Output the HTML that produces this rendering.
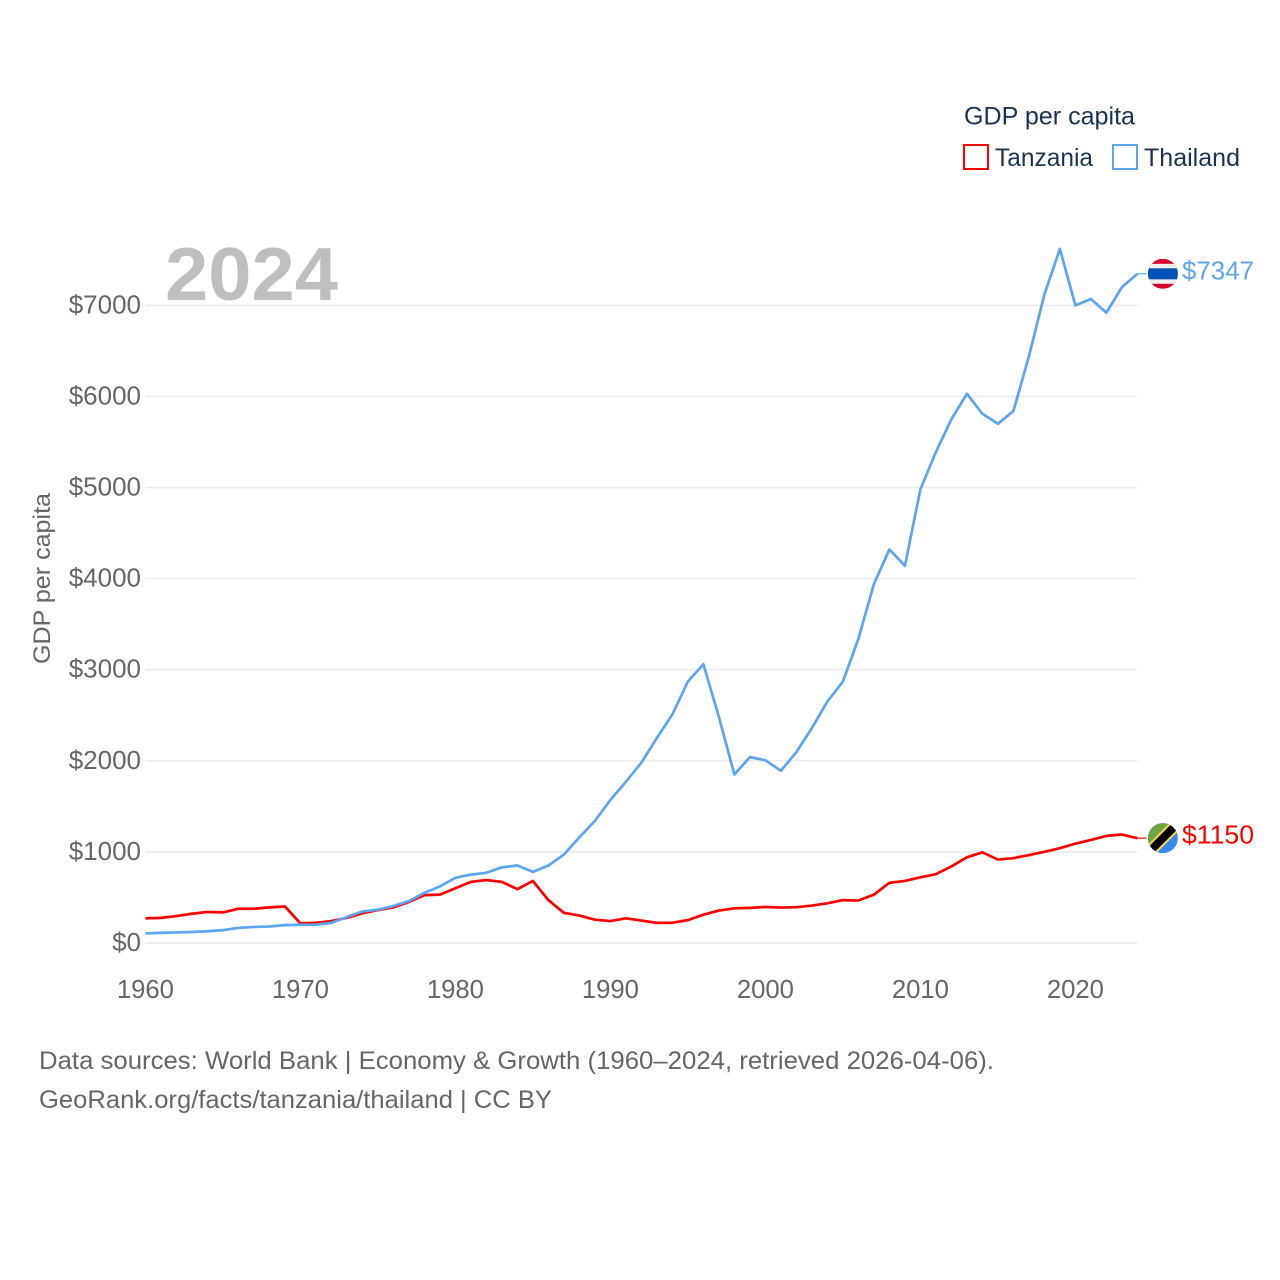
<!DOCTYPE html>
<html lang="en">
<head>
<meta charset="utf-8">
<title>GDP per capita: Tanzania and Thailand</title>
<style>
  html, body { margin: 0; padding: 0; background: #fff; }
  svg { display: block; font-family: "Liberation Sans", sans-serif; }
</style>
</head>
<body>
<svg id="chart" xmlns="http://www.w3.org/2000/svg" width="1280" height="1280" viewBox="0 0 1280 1280">
  <defs>
    <clipPath id="flag-clip-th"><circle cx="0" cy="0" r="15"></circle></clipPath>
    <clipPath id="flag-clip-tz"><circle cx="0" cy="0" r="15"></circle></clipPath>
  </defs>
  <rect width="1280" height="1280" fill="#ffffff"></rect>

  <g id="grid"></g>
  <g id="y-ticks"></g>
  <g id="x-ticks"></g>

  <text transform="translate(50 578.5) rotate(-90)" text-anchor="middle" font-size="24.5" fill="#666666" textLength="171" lengthAdjust="spacingAndGlyphs">GDP per capita</text>

  <text x="165" y="300" font-size="75" font-weight="700" fill="#bfbfbf" textLength="173" lengthAdjust="spacingAndGlyphs">2024</text>

  <g id="series"></g>

  <g id="flag-th" clip-path="url(#flag-clip-th)">
    <rect x="-15" y="-15" width="30" height="30" fill="#d80027"></rect>
    <rect x="-15" y="-10" width="30" height="20" fill="#eeeeee"></rect>
    <rect x="-15" y="-5.5" width="30" height="11" fill="#0052b4"></rect>
  </g>
  <g id="flag-tz" clip-path="url(#flag-clip-tz)">
    <rect x="-15" y="-15" width="30" height="30" fill="#338af3"></rect>
    <polygon points="-15,-15 15,-15 -15,15" fill="#6da544"></polygon>
    <line x1="-15" y1="15" x2="15" y2="-15" stroke="#ffda44" stroke-width="12"></line>
    <line x1="-15" y1="15" x2="15" y2="-15" stroke="#000000" stroke-width="8"></line>
  </g>
  <text id="label-th" x="1182" font-size="25.5" fill="#5da5ee" textLength="72" lengthAdjust="spacingAndGlyphs"></text>
  <text id="label-tz" x="1182" font-size="25.5" fill="#ff0000" textLength="72" lengthAdjust="spacingAndGlyphs"></text>

  <g>
    <text x="964" y="124.5" font-size="25" fill="#1a3355" textLength="171" lengthAdjust="spacingAndGlyphs">GDP per capita</text>
    <g>
      <rect x="964" y="145" width="24" height="24" fill="#ffffff" stroke="#ff0000" stroke-width="2"></rect>
      <text x="995" y="166" font-size="25" fill="#1a3355" textLength="98" lengthAdjust="spacingAndGlyphs">Tanzania</text>
    </g>
    <g>
      <rect x="1113" y="145" width="24" height="24" fill="#ffffff" stroke="#5da5ee" stroke-width="2"></rect>
      <text x="1144" y="166" font-size="25" fill="#1a3355" textLength="96" lengthAdjust="spacingAndGlyphs">Thailand</text>
    </g>
  </g>

  <g>
    <text x="39" y="1069" font-size="25" fill="#666666" textLength="955" lengthAdjust="spacingAndGlyphs">Data sources: World Bank | Economy &amp; Growth (1960–2024, retrieved 2026-04-06).</text>
    <text x="39" y="1108" font-size="25" fill="#666666" textLength="513" lengthAdjust="spacingAndGlyphs">GeoRank.org/facts/tanzania/thailand | CC BY</text>
  </g>
</svg>

<script>
const startYear = 1960;
const xTickYears = [1960, 1970, 1980, 1990, 2000, 2010, 2020];
const yTickValues = [0, 1000, 2000, 3000, 4000, 5000, 6000, 7000];

const tanzaniaValues = [
  270, 275, 295, 320, 340, 335, 375, 375, 390, 400,
  215, 220, 240, 275, 325, 360, 390, 450, 525, 530,
  600, 670, 690, 670, 590, 680, 470, 330, 300, 255,
  240, 270, 245, 220, 222, 250, 310, 355, 380, 385,
  395, 388, 392, 410, 435, 470, 465, 530, 660, 680,
  720, 755, 840, 940, 995, 915, 930, 965, 1000, 1040,
  1090, 1130, 1175, 1190, 1150
];

const thailandValues = [
  105, 110, 115, 120, 128, 140, 165, 175, 180, 195,
  200, 200, 220, 285, 345, 365, 405, 460, 550, 620,
  715, 750, 770, 830, 850, 780, 850, 970, 1160, 1340,
  1570, 1770, 1980, 2250, 2510, 2870, 3060, 2480, 1850, 2040,
  2005, 1890, 2095, 2360, 2650, 2870, 3340, 3940, 4320, 4140,
  4980, 5390, 5750, 6030, 5810, 5700, 5840, 6440, 7120, 7620,
  7000, 7070, 6920, 7200, 7347
];

const SVG_NS = 'http://www.w3.org/2000/svg';
const xScale = function (year) { return 145.4 + (year - 1960) * 15.5; };
const yScale = function (value) { return 942.9 - value * 0.09107; };

const gridGroup = document.getElementById('grid');
const yTickGroup = document.getElementById('y-ticks');
const xTickGroup = document.getElementById('x-ticks');
const seriesGroup = document.getElementById('series');

yTickValues.forEach(function (value) {
  const line = document.createElementNS(SVG_NS, 'line');
  
  
  line.setAttribute('x1', xScale(1960));
  line.setAttribute('x2', xScale(2024));
  line.setAttribute('y1', yScale(value));
  line.setAttribute('y2', yScale(value));
  line.setAttribute('stroke', '#ececec');
  line.setAttribute('stroke-width', '1.6');
  gridGroup.appendChild(line);

  const label = document.createElementNS(SVG_NS, 'text');
  
  
  label.setAttribute('x', 141);
  label.setAttribute('y', yScale(value) + 8);
  label.setAttribute('text-anchor', 'end');
  label.setAttribute('font-size', '26');
  label.setAttribute('fill', '#666666');
  label.textContent = '$' + value;
  yTickGroup.appendChild(label);
});

xTickYears.forEach(function (year) {
  const label = document.createElementNS(SVG_NS, 'text');
  
  
  label.setAttribute('x', xScale(year));
  label.setAttribute('y', 998);
  label.setAttribute('text-anchor', 'middle');
  label.setAttribute('font-size', '25.7');
  label.setAttribute('fill', '#666666');
  label.textContent = String(year);
  xTickGroup.appendChild(label);
});

function linePoints(values) {
  return values.map(function (value, i) {
    return xScale(startYear + i).toFixed(2) + ',' + yScale(value).toFixed(2);
  }).join(' ');
}

function drawSeries(values, color, name) {
  const path = document.createElementNS(SVG_NS, 'polyline');
  
  
  path.setAttribute('points', linePoints(values));
  path.setAttribute('fill', 'none');
  path.setAttribute('stroke', color);
  path.setAttribute('stroke-width', '2.7');
  path.setAttribute('stroke-linejoin', 'round');
  seriesGroup.appendChild(path);

  const lastValue = values[values.length - 1];
  const connector = document.createElementNS(SVG_NS, 'line');
  
  
  connector.setAttribute('x1', xScale(2024));
  connector.setAttribute('x2', xScale(2024) + 9);
  connector.setAttribute('y1', yScale(lastValue));
  connector.setAttribute('y2', yScale(lastValue));
  connector.setAttribute('stroke', color);
  connector.setAttribute('stroke-width', '1.2');
  seriesGroup.appendChild(connector);
}

drawSeries(tanzaniaValues, '#ff0000', 'tanzania-line');
drawSeries(thailandValues, '#5da5ee', 'thailand-line');

function placeEndMarkers(values, flagId, labelId) {
  const lastValue = values[values.length - 1];
  const y = yScale(lastValue);
  const flagX = xScale(2024) + 25.5;
  document.getElementById(flagId).setAttribute('transform', 'translate(' + flagX + ' ' + y + ')');
  const label = document.getElementById(labelId);
  label.setAttribute('y', y + 5.5);
  label.textContent = '$' + lastValue;
}

placeEndMarkers(thailandValues, 'flag-th', 'label-th');
placeEndMarkers(tanzaniaValues, 'flag-tz', 'label-tz');
</script>
</body>
</html>
